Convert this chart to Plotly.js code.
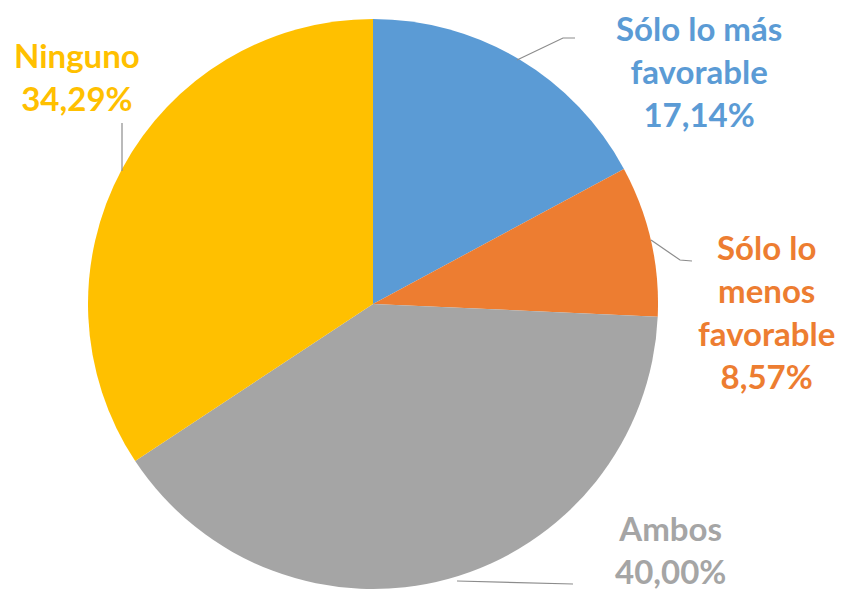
<!DOCTYPE html>
<html>
<head>
<meta charset="utf-8">
<script src="https://cdn.plot.ly/plotly-3.0.1.min.js"></script>
<style>html,body{margin:0;padding:0;background:#fff;}#chart{width:847px;height:595px;}</style>
</head>
<body>
<div id="chart"></div>
<script>
// Data
const categories = ["Sólo lo más favorable", "Sólo lo menos favorable", "Ambos", "Ninguno"];
const labelLines = [["Sólo lo más", "favorable"], ["Sólo lo", "menos", "favorable"], ["Ambos"], ["Ninguno"]];
const values = [17.14, 8.57, 40.00, 34.29];
const colors = ["#5B9BD5", "#ED7D31", "#A5A5A5", "#FFC000"];

// Layout helpers (pixel -> paper)
const W = 847, H = 595;
const px = x => x / W;
const py = y => 1 - y / H;
const cx = 373, cy = 304, r = 285;

// label positions (pixel, block centre) and leader lines
const labelPos = [[699, 71], [766, 311], [670, 549], [77, 76]];
const leaders = [
  [[517, 60], [563, 38], [575, 38]],
  [[651, 240], [680, 260], [692, 261]],
  [[457, 581], [573, 584]],
  [[122, 123], [122, 171]]
];

const fmt = v => v.toFixed(2).replace('.', ',') + '%';

const annotations = categories.map((c, i) => ({
  xref: 'paper', yref: 'paper',
  x: px(labelPos[i][0]), y: py(labelPos[i][1]),
  xanchor: 'center', yanchor: 'middle',
  showarrow: false,
  align: 'center',
  text: labelLines[i].concat([fmt(values[i])]).join('<br>'),
  font: {family: 'Lato, "Open Sans", sans-serif', size: 33, color: colors[i], weight: 'bold'}
}));

const shapes = leaders.map(pts => ({
  type: 'path', xref: 'paper', yref: 'paper',
  path: pts.map((p, k) => (k ? 'L' : 'M') + px(p[0]) + ',' + py(p[1])).join(' '),
  line: {color: '#8c8c8c', width: 1.2}
}));

const trace = {
  type: 'pie',
  labels: categories,
  values: values,
  sort: false,
  direction: 'clockwise',
  rotation: 0,
  marker: {colors: colors, line: {width: 0}},
  textinfo: 'none',
  hoverinfo: 'label+percent',
  showlegend: false,
  domain: {x: [px(cx - r), px(cx + r)], y: [py(cy + r), py(cy - r)]}
};

Plotly.newPlot('chart', [trace], {
  width: W, height: H,
  margin: {l: 0, r: 0, t: 0, b: 0},
  paper_bgcolor: '#ffffff',
  showlegend: false,
  annotations: annotations,
  shapes: shapes
}, {staticPlot: true});
</script>
</body>
</html>
